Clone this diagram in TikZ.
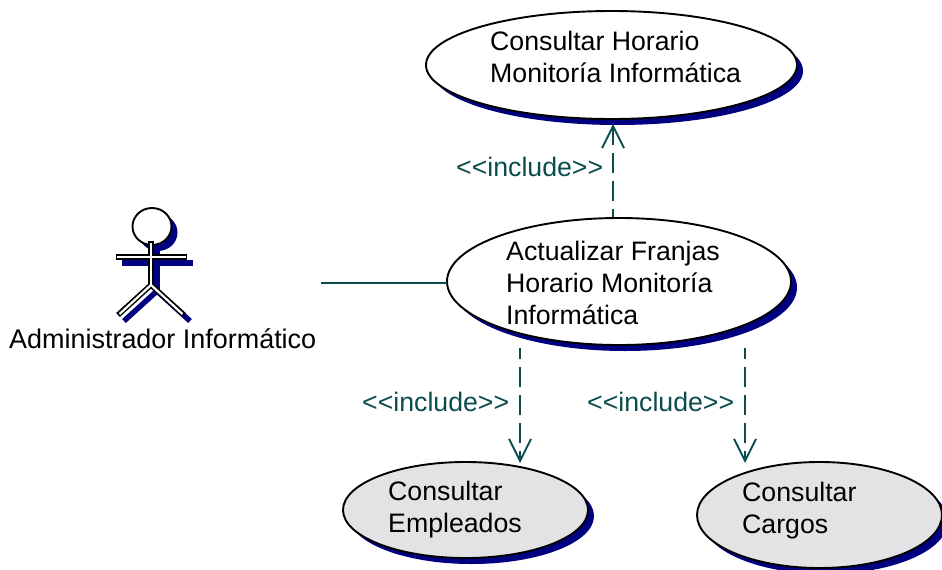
\documentclass[tikz,border=0pt]{standalone}
\usepackage{fontspec}
\setmainfont{Liberation Sans}
\usetikzlibrary{arrows.meta,shapes.geometric}
\definecolor{conn}{HTML}{0B4C4C}
\definecolor{shad}{HTML}{000080}
\definecolor{grayuc}{HTML}{E3E3E6}
\tikzset{
  x=1pt,y=-1pt,
  ucase/.style={ellipse,draw=black,line width=1.9pt,fill=white,inner sep=0pt,outer sep=0pt},
  ucgray/.style={ucase,fill=grayuc},
  ucshadow/.style={fill=shad,draw=none},
  lbl/.style={font=\fontsize{26.7}{32}\selectfont,align=left,anchor=base west,inner sep=0pt,text=black},
  stereo/.style={font=\fontsize{26.7}{32}\selectfont,anchor=base west,text=conn,inner sep=0pt},
  incl/.style={draw=conn,line width=1.9pt,dash pattern=on 20pt off 8pt,-{Straight Barb[length=22pt,width=22pt,line width=1.9pt,conn]}},
  assoc/.style={draw=conn,line width=1.9pt},
  stickout/.style={draw=black,line width=5.4pt,line cap=butt,line join=miter},
  stickin/.style={draw=white,line width=2.2pt,line cap=butt,line join=miter},
  stickshad/.style={draw=shad,line width=5.4pt,line cap=butt,line join=miter}
}
\begin{document}
\begin{tikzpicture}
\useasboundingbox (0,0) rectangle (942,570);
\clip (0,0) rectangle (942,570);
% shadows
\fill[ucshadow] (617.5,71) ellipse [x radius=185.5,y radius=54];
\fill[ucshadow] (625,287.5) ellipse [x radius=172,y radius=63.5];
\fill[ucshadow] (471.5,516) ellipse [x radius=122.5,y radius=48];
\fill[ucshadow] (825.5,521) ellipse [x radius=122.5,y radius=53];
% use cases
\node[ucase,minimum width=371pt,minimum height=108pt] (top) at (611.5,65) {};
\node[ucase,minimum width=344pt,minimum height=127pt] (mid) at (619,281.5) {};
\node[ucgray,minimum width=245pt,minimum height=96pt] (emp) at (465.5,510) {};
\node[ucgray,minimum width=245pt,minimum height=106pt] (car) at (819.5,515) {};
% use case texts
\node[lbl] (ttop) at (490,82) {Consultar Horario\\Monitoría Informática};
\node[lbl] (tmid) at (506,324) {Actualizar Franjas\\Horario Monitoría\\Informática};
\node[lbl] (temp) at (388,532) {Consultar\\Empleados};
\node[lbl] (tcar) at (742,533) {Consultar\\Cargos};
% actor
\begin{scope}[shift={(6,6)}]
\fill[shad] (152,226.5) ellipse [x radius=19.5,y radius=18.5];
\draw[stickshad] (151,243) -- (151,285);
\draw[stickshad] (116,257) -- (187,257);
\draw[stickshad] (118,315) -- (151,285) -- (184,315);
\end{scope}
\node[ellipse,draw=black,line width=1.9pt,fill=white,inner sep=0pt,minimum width=39pt,minimum height=37pt] (head) at (152,226.5) {};
\draw[stickout] (151,241) -- (151,285);
\draw[stickout] (116,257) -- (187,257);
\draw[stickout] (118,315) -- (151,285) -- (184,315);
\draw[stickin] (151,243) -- (151,285);
\draw[stickin] (117,257) -- (186,257);
\draw[stickin] (119.5,314) -- (151,285) -- (182.5,314);
\node[lbl,font=\fontsize{26.95}{32}\selectfont] (actor) at (9,348) {Administrador Informático};
% connectors
\coordinate (assocstart) at (321,283);
\coordinate (assocend) at (447,283);
\draw[assoc] (assocstart) -- (assocend);
\coordinate (a1) at (613,217);
\coordinate (a2) at (613,124);
\draw[incl,dash phase=12pt] (a1) -- (a2);
\coordinate (b1) at (520,348);
\coordinate (b2) at (520,463);
\draw[incl,dash phase=9pt] (b1) -- (b2);
\coordinate (c1) at (745,348);
\coordinate (c2) at (745,463);
\draw[incl,dash phase=9pt] (c1) -- (c2);
\node[stereo] (s1) at (456,176) {<{}<include>{}>};
\node[stereo] (s2) at (362,411) {<{}<include>{}>};
\node[stereo] (s3) at (587,411) {<{}<include>{}>};
\end{tikzpicture}
\end{document}
